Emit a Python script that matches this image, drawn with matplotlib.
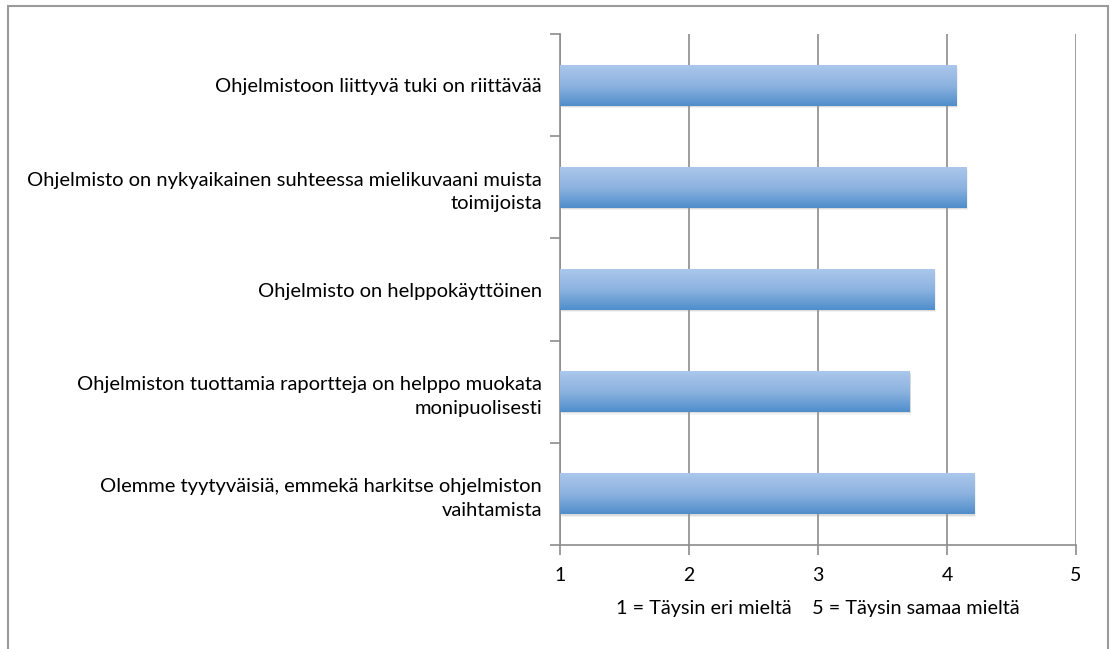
import numpy as np
import matplotlib
matplotlib.use("Agg")
import matplotlib.pyplot as plt
from matplotlib.patches import Rectangle

plt.rcParams['font.family'] = ['Lato', 'DejaVu Sans']

# data (top to bottom)
labels = [
    "Ohjelmistoon liittyvä tuki on riittävää",
    "Ohjelmisto on nykyaikainen suhteessa mielikuvaani muista\ntoimijoista",
    "Ohjelmisto on helppokäyttöinen",
    "Ohjelmiston tuottamia raportteja on helppo muokata\nmonipuolisesti",
    "Olemme tyytyväisiä, emmekä harkitse ohjelmiston\nvaihtamista",
]
values = [4.07, 4.15, 3.90, 3.71, 4.21]
xticks = [1, 2, 3, 4, 5]
xlabel = "1 = Täysin eri mieltä    5 = Täysin samaa mieltä"

fig = plt.figure(figsize=(11.11, 6.49), dpi=100)
ax = fig.add_axes([0.504, 0.1602, 0.4645, 0.7874])

# outer frame
fig.patches.append(Rectangle((0.0072, -0.1), 0.9905, 1.091, transform=fig.transFigure,
                             fill=False, edgecolor='#9a9a9a', lw=1.5))

y = np.arange(len(labels))
bar_h = 0.40
bars = ax.barh(y, np.array(values) - 1, left=1, height=bar_h, color='none',
               edgecolor='none', zorder=3)

# vertical gradient fill + soft shadow
grad = np.linspace(0, 1, 100).reshape(-1, 1)
cmap = matplotlib.colors.LinearSegmentedColormap.from_list(
    'bargrad', ['#abc7eb', '#8db3e0', '#4f8ecb'])
for b in bars:
    x0, y0 = b.get_x(), b.get_y()
    w, h = b.get_width(), b.get_height()
    for k, a in [(0.012, 0.25), (0.024, 0.12)]:
        ax.add_patch(Rectangle((x0 + k * 0.6, y0 + k), w, h, color='#9a9a9a',
                               alpha=a, zorder=2, lw=0))
    im = ax.imshow(grad, cmap=cmap, aspect='auto', zorder=3,
                   extent=[x0, x0 + w, y0 + h, y0])
    im.set_clip_path(b)

ax.set_xlim(1, 5)
ax.set_ylim(len(labels) - 0.5, -0.5)
ax.set_xticks(xticks)
ax.set_xticklabels([str(t) for t in xticks], fontsize=14)
ax.set_yticks(y)
ax.set_yticklabels(labels, fontsize=14.5, multialignment='right', linespacing=1.45)
ax.tick_params(axis='y', length=0, pad=13)
ax.set_yticks(np.arange(len(labels) + 1) - 0.5, minor=True)
ax.tick_params(axis='y', which='minor', length=7, color='#8c8c8c', width=1.2)
ax.tick_params(axis='x', length=7, color='#8c8c8c', width=1.2, pad=9)
ax.set_xlabel(xlabel, fontsize=14.3, labelpad=11)

ax.grid(axis='x', color='#8c8c8c', lw=1.2, zorder=0)
ax.set_axisbelow(True)
for s in ['top', 'right']:
    ax.spines[s].set_visible(False)
for s in ['left', 'bottom']:
    ax.spines[s].set_color('#8c8c8c')
    ax.spines[s].set_linewidth(1.2)

fig.savefig("out.png", dpi=100)
